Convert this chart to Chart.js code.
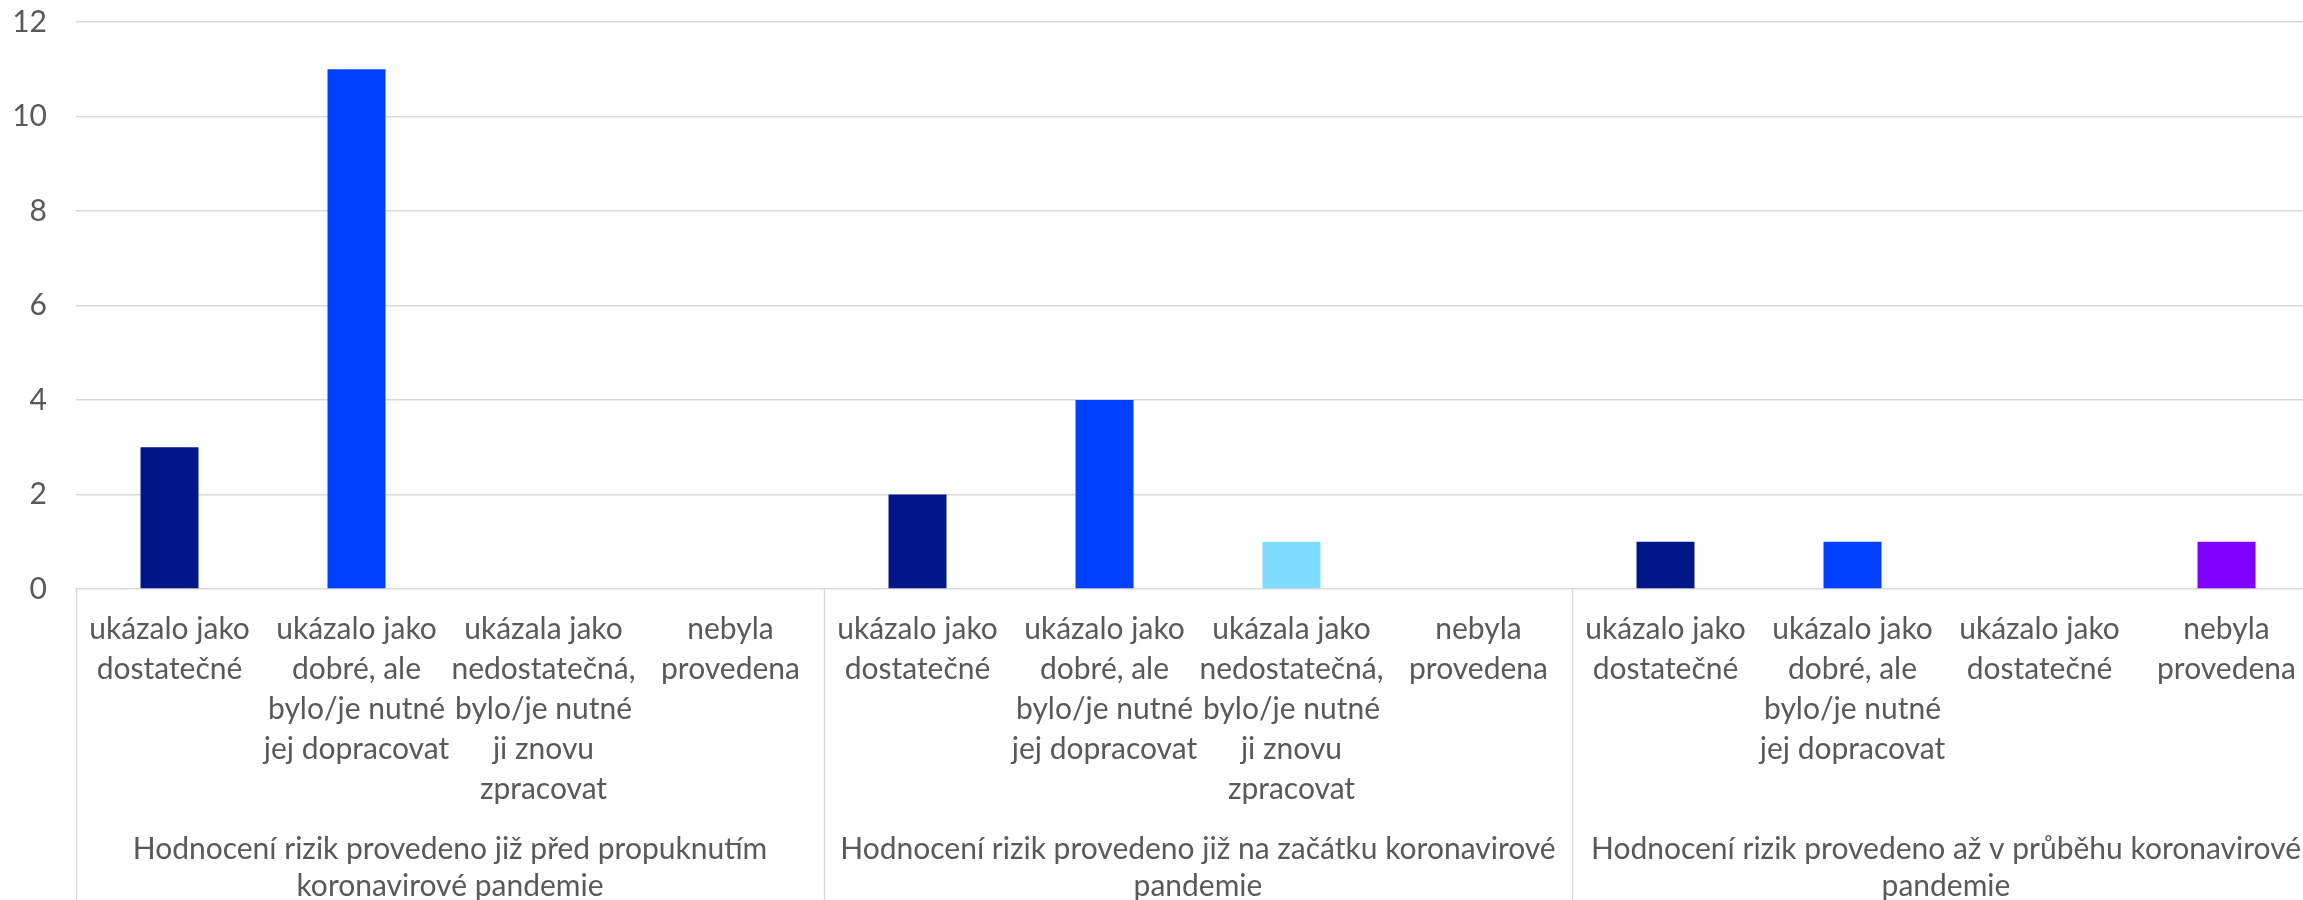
<!DOCTYPE html>
<html>
<head>
<meta charset="utf-8">
<script src="https://cdn.jsdelivr.net/npm/chart.js@4"></script>
<style>
  html, body { margin: 0; padding: 0; background: #ffffff; overflow: hidden; }
  #wrap { width: 2320px; height: 920px; position: relative; }
</style>
</head>
<body>
<div id="wrap"><canvas id="riskChart"></canvas></div>
<script>
const groupLabels = [
  ["Hodnocení rizik provedeno již před propuknutím", "koronavirové pandemie"],
  ["Hodnocení rizik provedeno již na začátku koronavirové", "pandemie"],
  ["Hodnocení rizik provedeno až v průběhu koronavirové", "pandemie"],
];

const categoryLabels = [
  ["ukázalo jako", "dostatečné"],
  ["ukázalo jako", "dobré, ale", "bylo/je nutné", "jej dopracovat"],
  ["ukázala jako", "nedostatečná,", "bylo/je nutné", "ji znovu", "zpracovat"],
  ["nebyla", "provedena"],
  ["ukázalo jako", "dostatečné"],
  ["ukázalo jako", "dobré, ale", "bylo/je nutné", "jej dopracovat"],
  ["ukázala jako", "nedostatečná,", "bylo/je nutné", "ji znovu", "zpracovat"],
  ["nebyla", "provedena"],
  ["ukázalo jako", "dostatečné"],
  ["ukázalo jako", "dobré, ale", "bylo/je nutné", "jej dopracovat"],
  ["ukázalo jako", "dostatečné"],
  ["nebyla", "provedena"],
];

const counts = [3, 11, 0, 0, 2, 4, 1, 0, 1, 1, 0, 1];

const yTicks = [0, 2, 4, 6, 8, 10, 12];

const answerColors = ["#001689", "#0040FF", "#7FDBFF", "#7F00FF"];

const FONT = "Lato, 'Open Sans', sans-serif";
const TEXT = "#595959";
const GRID = "#D9D9D9";

// lines between the groups, running down through both label rows
const groupDividers = {
  id: "groupDividers",
  afterDraw(chart) {
    const x = chart.scales.x;
    const ctx = chart.ctx;
    const top = chart.chartArea.bottom;
    const bottom = chart.height;
    ctx.save();
    ctx.strokeStyle = GRID;
    ctx.lineWidth = 1.5;
    for (let i = 0; i <= categoryLabels.length; i += 4) {
      const px = Math.round(x.getPixelForValue(i - 0.5)) + 0.5;
      ctx.beginPath();
      ctx.moveTo(px, top);
      ctx.lineTo(px, bottom);
      ctx.stroke();
    }
    ctx.restore();
  },
};

document.addEventListener("DOMContentLoaded", () => {
  const ctx = document.getElementById("riskChart");

  new Chart(ctx, {
    type: "bar",
    data: {
      labels: categoryLabels,
      datasets: [
        {
          data: counts,
          backgroundColor: counts.map((_, i) => answerColors[i % 4]),
          borderWidth: 0,
          barPercentage: 0.31,
          categoryPercentage: 1,
        },
      ],
    },
    options: {
      responsive: true,
      maintainAspectRatio: false,
      animation: false,
      layout: { padding: 0 },
      plugins: {
        legend: { display: false },
        tooltip: { enabled: false },
      },
      scales: {
        x: {
          type: "category",
          weight: 0,
          offset: true,
          grid: { display: false, drawTicks: false },
          border: { display: false },
          ticks: {
            autoSkip: false,
            maxRotation: 0,
            padding: 20,
            color: TEXT,
            font: { family: FONT, size: 30, lineHeight: "40px" },
          },
          afterFit: (s) => { s.height = 240; },
        },
        x2: {
          type: "category",
          position: "bottom",
          weight: 1,
          labels: groupLabels,
          offset: true,
          grid: { display: false, drawTicks: false },
          border: { display: false },
          ticks: {
            autoSkip: false,
            maxRotation: 0,
            padding: 2,
            color: TEXT,
            font: { family: FONT, size: 30, lineHeight: "37px" },
          },
          afterFit: (s) => { s.height = 91; },
        },
        y: {
          min: yTicks[0],
          max: yTicks[yTicks.length - 1],
          afterBuildTicks: (s) => { s.ticks = yTicks.map((v) => ({ value: v })); },
          grid: { color: GRID, lineWidth: 1.5, drawTicks: false },
          border: { display: false },
          ticks: {
            padding: 29,
            color: TEXT,
            font: { family: FONT, size: 30 },
          },
          afterFit: (s) => {
            s.width = 76;
            s.paddingTop = 22;
            s.paddingBottom = 0;
          },
        },
      },
    },
    plugins: [groupDividers],
  });
});
</script>
</body>
</html>
